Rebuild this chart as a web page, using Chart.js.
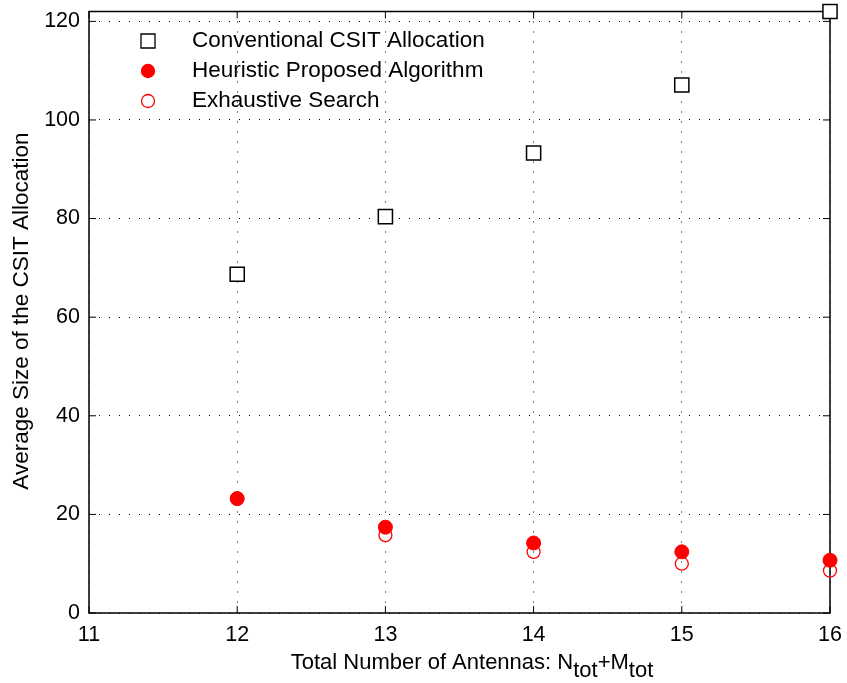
<!DOCTYPE html>
<html>
<head>
<meta charset="utf-8">
<script src="https://cdn.jsdelivr.net/npm/chart.js@4/dist/chart.umd.min.js"></script>
<style>body{margin:0;background:#fff}</style>
</head>
<body>
<canvas id="grafico" width="847" height="683"></canvas>
<script>
// datos
const antenas = [12, 13, 14, 15, 16];
const convencional = [68.7, 80.4, 93.3, 107.1, 122];
const heuristico = [23.2, 17.4, 14.2, 12.4, 10.7];
const exhaustivo = [23.2, 15.8, 12.4, 10.0, 8.6];
const ticksX = [11, 12, 13, 14, 15, 16];
const ticksY = [0, 20, 40, 60, 80, 100, 120];
const nombres = ["Conventional CSIT Allocation", "Heuristic Proposed Algorithm", "Exhaustive Search"];

const FUENTE = "'Liberation Sans', Arial, sans-serif";
const toPts = (ys) => antenas.map((x, i) => ({ x: x, y: ys[i] }));

// marcos, ticks internos, leyenda y titulos
const marco = {
  id: "marco",
  beforeDatasetsDraw(chart) {
    const { ctx, chartArea: a, scales } = chart;
    ctx.save();
    ctx.strokeStyle = "#000";
    ctx.lineWidth = 1.5;
    ctx.strokeRect(a.left, a.top, a.right - a.left, a.bottom - a.top);
    ctx.lineWidth = 1;
    ctx.beginPath();
    ticksX.forEach(v => {
      const x = scales.x.getPixelForValue(v);
      ctx.moveTo(x, a.bottom); ctx.lineTo(x, a.bottom - 7);
      ctx.moveTo(x, a.top); ctx.lineTo(x, a.top + 7);
    });
    ticksY.forEach(v => {
      const y = scales.y.getPixelForValue(v);
      ctx.moveTo(a.left, y); ctx.lineTo(a.left + 7, y);
      ctx.moveTo(a.right, y); ctx.lineTo(a.right - 7, y);
    });
    ctx.stroke();
    ctx.restore();
  },
  afterDraw(chart) {
    const ctx = chart.ctx;
    ctx.save();
    ctx.font = "22.5px " + FUENTE;
    ctx.fillStyle = "#000";

    // leyenda
    const filas = [41, 71, 101];
    chart.data.datasets.forEach((ds) => {
      const k = nombres.indexOf(ds.label);
      const y = filas[k];
      ctx.lineWidth = 1.3;
      ctx.strokeStyle = ds.borderColor;
      ctx.fillStyle = ds.backgroundColor;
      ctx.beginPath();
      if (ds.pointStyle === "rect") {
        ctx.rect(148 - 7, y - 7, 14, 14);
      } else {
        ctx.arc(148, y, 6.5, 0, Math.PI * 2);
      }
      ctx.fill();
      ctx.stroke();
      ctx.fillStyle = "#000";
      ctx.textBaseline = "middle";
      ctx.fillText(ds.label, 192, y);
    });

    // titulo eje y
    ctx.save();
    ctx.translate(22, 311);
    ctx.rotate(-Math.PI / 2);
    ctx.textAlign = "center";
    ctx.textBaseline = "middle";
    ctx.fillText("Average Size of the CSIT Allocation", 0, 0);
    ctx.restore();

    // titulo eje x con subindices
    ctx.font = "22px " + FUENTE;
    const partes = [["Total Number of Antennas: N", 0], ["tot", 8], ["+M", 0], ["tot", 8]];
    const total = partes.reduce((s, p) => s + ctx.measureText(p[0]).width, 0);
    let x = 472 - total / 2;
    ctx.textBaseline = "alphabetic";
    ctx.textAlign = "left";
    partes.forEach(p => {
      ctx.fillText(p[0], x, 669 + p[1]);
      x += ctx.measureText(p[0]).width;
    });
    ctx.restore();
  }
};

new Chart(document.getElementById("grafico"), {
  type: "scatter",
  data: {
    datasets: [
      {
        label: nombres[0],
        data: toPts(convencional),
        pointStyle: "rect",
        pointRadius: 10,
        pointHoverRadius: 10,
        borderColor: "#000",
        backgroundColor: "#fff",
        borderWidth: 1.5,
        clip: false
      },
      {
        label: nombres[1],
        data: toPts(heuristico),
        pointStyle: "circle",
        pointRadius: 7,
        pointHoverRadius: 7,
        borderColor: "#ff0000",
        backgroundColor: "#ff0000",
        borderWidth: 1,
        clip: false
      },
      {
        label: nombres[2],
        data: toPts(exhaustivo),
        pointStyle: "circle",
        pointRadius: 6.5,
        pointHoverRadius: 6.5,
        borderColor: "#ff0000",
        backgroundColor: "rgba(255,255,255,0)",
        borderWidth: 1.3,
        clip: false
      }
    ]
  },
  options: {
    responsive: false,
    animation: false,
    devicePixelRatio: 1,
    layout: { padding: { top: 9, right: 17, left: 0, bottom: 0 } },
    plugins: {
      legend: { display: false },
      tooltip: { enabled: false }
    },
    scales: {
      x: {
        type: "linear",
        min: 11,
        max: 16,
        afterBuildTicks: (s) => { s.ticks = ticksX.map(v => ({ value: v })); },
        afterFit: (s) => { s.height = 70; s.paddingLeft = 0; s.paddingRight = 0; },
        grid: { color: "#000", lineWidth: 1, drawTicks: false },
        border: { display: false, dash: [1, 9] },
        ticks: { color: "#000", font: { family: FUENTE, size: 21.5 }, padding: 9, maxRotation: 0 }
      },
      y: {
        type: "linear",
        min: 0,
        max: 122,
        afterBuildTicks: (s) => { s.ticks = ticksY.map(v => ({ value: v })); },
        afterFit: (s) => { s.width = 89; s.paddingTop = 0; s.paddingBottom = 0; },
        grid: { color: "#000", lineWidth: 1, drawTicks: false },
        border: { display: false, dash: [1, 9] },
        ticks: { color: "#000", font: { family: FUENTE, size: 21.5 }, padding: 9 }
      }
    }
  },
  plugins: [marco]
});
</script>
</body>
</html>
